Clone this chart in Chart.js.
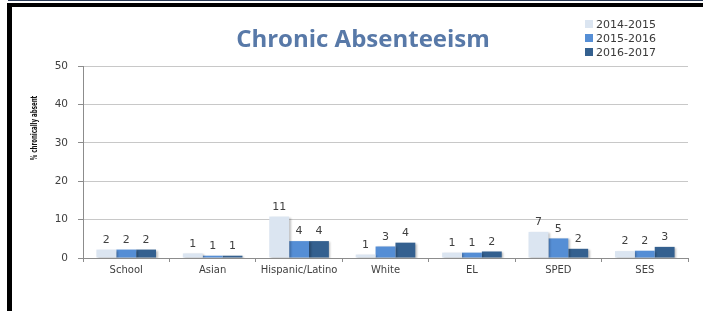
<!DOCTYPE html>
<html>
<head>
<meta charset="utf-8">
<script src="https://cdn.jsdelivr.net/npm/chart.js@4/dist/chart.umd.min.js"></script>
<style>
  html, body { margin: 0; padding: 0; background: #fff; }
  #wrap { position: relative; width: 703px; height: 311px; overflow: hidden; }
  #chart { position: absolute; left: 0; top: 0; }
  .rule-top { position: absolute; left: 8px; top: 0; width: 695px; height: 1px; background: #2b3b57; }
  .rule-bar { position: absolute; left: 7px; top: 3px; width: 696px; height: 4px; background: #000; }
  .rule-left { position: absolute; left: 7px; top: 3px; width: 5px; height: 308px; background: #000; }
  .title { position: absolute; left: 0; width: 726px; top: 21px; text-align: center;
           font: bold 24px "Open Sans", sans-serif; color: #5879a8; }
  .ytitle { position: absolute; left: 34px; top: 128px; white-space: nowrap;
            font: bold 9px "Liberation Sans Narrow", "DejaVu Sans Condensed", sans-serif; color: #111;
            transform: translate(-50%, -50%) rotate(-90deg) scaleX(0.68); }
  #legend { position: absolute; left: 585px; top: 18px; font: 11px "DejaVu Sans", sans-serif; color: #3a3a3a; }
  #legend div { height: 14px; line-height: 14px; white-space: nowrap; }
  #legend span { display: inline-block; width: 8px; height: 8px; margin-right: 3px; }
</style>
</head>
<body>
<div id="wrap">
  <canvas id="chart" width="703" height="311"></canvas>
  <div class="rule-top"></div>
  <div class="rule-bar"></div>
  <div class="rule-left"></div>
  <div class="title">Chronic Absenteeism</div>
  <div class="ytitle">% chronically absent</div>
  <div id="legend"></div>
</div>
<script>
// categories and values
const categories = ['School', 'Asian', 'Hispanic/Latino', 'White', 'EL', 'SPED', 'SES'];
const seriesNames = ['2014-2015', '2015-2016', '2016-2017'];
const values2014 = [2.2, 1.2, 10.8, 0.9, 1.4, 6.8, 1.8];
const values2015 = [2.2, 0.6, 4.4, 3.0, 1.4, 5.1, 1.9];
const values2016 = [2.2, 0.6, 4.4, 4.0, 1.7, 2.4, 2.9];
const yTicks = [0, 10, 20, 30, 40, 50];

const colors = ['#dbe5f1', '#558ed5', '#34608f'];
const textColor = '#404040';

// value labels above each bar
const barLabels = {
  id: 'barLabels',
  afterDatasetsDraw(chart) {
    const ctx = chart.ctx;
    ctx.save();
    ctx.font = '11px "DejaVu Sans", sans-serif';
    ctx.fillStyle = textColor;
    ctx.textAlign = 'center';
    ctx.textBaseline = 'bottom';
    chart.data.datasets.forEach((ds, i) => {
      chart.getDatasetMeta(i).data.forEach((bar, j) => {
        ctx.fillText(Math.round(ds.data[j]), bar.x, bar.y - 4);
      });
    });
    ctx.restore();
  }
};

// soft shadow under the bars
const barShadow = {
  id: 'barShadow',
  beforeDatasetsDraw(chart) {
    const ctx = chart.ctx;
    ctx.save();
    ctx.shadowColor = 'rgba(0,0,0,0.25)';
    ctx.shadowBlur = 2;
    ctx.shadowOffsetX = 1.5;
    ctx.shadowOffsetY = 1;
  },
  afterDatasetsDraw(chart) {
    chart.ctx.restore();
  }
};

const datasets = [values2014, values2015, values2016].map((vals, i) => ({
  label: seriesNames[i],
  data: vals,
  backgroundColor: colors[i],
  borderWidth: 0,
  categoryPercentage: 0.69,
  barPercentage: 1.0
}));

new Chart(document.getElementById('chart'), {
  type: 'bar',
  data: { labels: categories, datasets: datasets },
  options: {
    responsive: false,
    animation: false,
    layout: { padding: { top: 66, right: 15, left: 0, bottom: 0 } },
    plugins: {
      legend: { display: false },
      title: { display: false },
      tooltip: { enabled: false }
    },
    scales: {
      x: {
        afterFit(scale) { scale.height = 53; },
        grid: { drawOnChartArea: false, color: '#8c8c8c', tickLength: 4, offset: true },
        border: { color: '#8c8c8c' },
        ticks: { color: textColor, font: { family: 'DejaVu Sans', size: 10 }, padding: 2, maxRotation: 0, autoSkip: false }
      },
      y: {
        min: 0,
        max: 50,
        afterFit(scale) { scale.width = 83; },
        afterBuildTicks(scale) { scale.ticks = yTicks.map(v => ({ value: v })); },
        grid: { color: '#c8c8c8', tickColor: '#8c8c8c', tickLength: 5 },
        border: { color: '#8c8c8c' },
        ticks: { color: textColor, font: { family: 'DejaVu Sans', size: 10.5 }, padding: 10 }
      }
    }
  },
  plugins: [barShadow, barLabels]
});

// legend built from the series names
const legend = document.getElementById('legend');
seriesNames.forEach((name, i) => {
  const row = document.createElement('div');
  const sw = document.createElement('span');
  sw.style.background = colors[i];
  row.appendChild(sw);
  row.appendChild(document.createTextNode(name));
  legend.appendChild(row);
});
</script>
</body>
</html>
